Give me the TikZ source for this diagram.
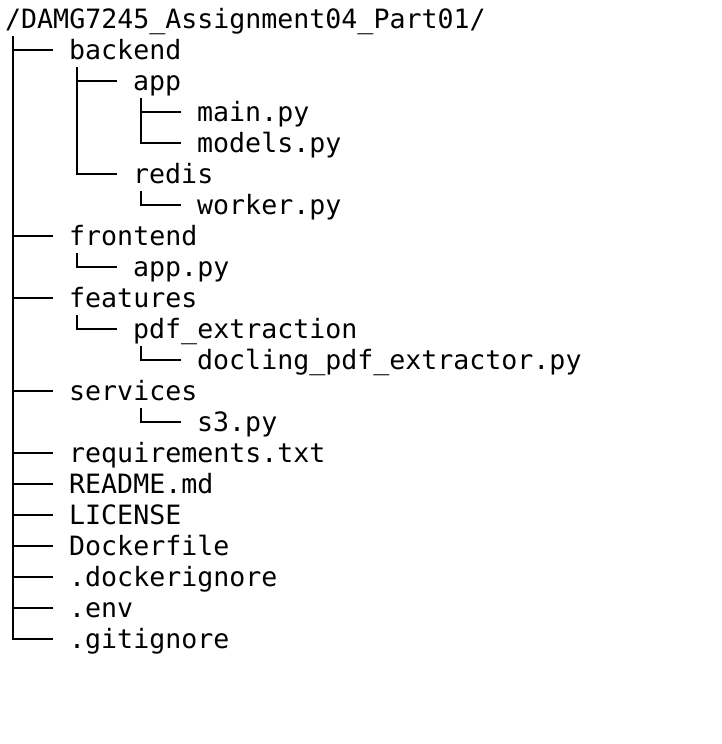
\documentclass[tikz,border=0pt]{standalone}
\usepackage{fontspec}
\setmonofont{DejaVu Sans Mono}
\begin{document}
\begin{tikzpicture}[x=1pt,y=-1pt,
  entry/.style={anchor=base west, inner sep=0pt, font=\ttfamily\fontsize{26.6}{31}\selectfont},
  branch/.style={line width=2pt}]
\useasboundingbox (0,0) rectangle (722,744);
\fill[white] (0,0) rectangle (722,744);
% entries
\node[entry] (root) at (5,28) {/DAMG7245\_Assignment04\_Part01/};
\node[entry] (backend) at (69,59) {backend};
\node[entry] (app) at (133,90) {app};
\node[entry] (main) at (197,121) {main.py};
\node[entry] (models) at (197,152) {models.py};
\node[entry] (redis) at (133,183) {redis};
\node[entry] (worker) at (197,214) {worker.py};
\node[entry] (frontend) at (69,245) {frontend};
\node[entry] (apppy) at (133,276) {app.py};
\node[entry] (features) at (69,307) {features};
\node[entry] (pdf) at (133,338) {pdf\_extraction};
\node[entry] (docling) at (197,369) {docling\_pdf\_extractor.py};
\node[entry] (services) at (69,400) {services};
\node[entry] (s3) at (197,431) {s3.py};
\node[entry] (req) at (69,462) {requirements.txt};
\node[entry] (readme) at (69,493) {README.md};
\node[entry] (license) at (69,524) {LICENSE};
\node[entry] (dockerfile) at (69,555) {Dockerfile};
\node[entry] (dockerignore) at (69,586) {.dockerignore};
\node[entry] (env) at (69,617) {.env};
\node[entry] (gitignore) at (69,648) {.gitignore};
% branches: last child elbows
\draw[branch] ([xshift=8pt,yshift=-8pt]root.base west) |- ([xshift=-16pt,yshift=9pt]gitignore.base west);
\draw[branch] ([xshift=8pt,yshift=-8pt]backend.base west) |- ([xshift=-16pt,yshift=9pt]redis.base west);
\draw[branch] ([xshift=8pt,yshift=-8pt]app.base west) |- ([xshift=-16pt,yshift=9pt]models.base west);
\draw[branch] ([xshift=8pt,yshift=-8pt]redis.base west) |- ([xshift=-16pt,yshift=9pt]worker.base west);
\draw[branch] ([xshift=8pt,yshift=-8pt]frontend.base west) |- ([xshift=-16pt,yshift=9pt]apppy.base west);
\draw[branch] ([xshift=8pt,yshift=-8pt]features.base west) |- ([xshift=-16pt,yshift=9pt]pdf.base west);
\draw[branch] ([xshift=8pt,yshift=-8pt]pdf.base west) |- ([xshift=-16pt,yshift=9pt]docling.base west);
\draw[branch] ([xshift=72pt,yshift=-8pt]services.base west) |- ([xshift=-16pt,yshift=9pt]s3.base west);
% branches: middle children
\foreach \n in {backend,frontend,features,services,req,readme,license,dockerfile,dockerignore,env,app,main}
  \draw[branch] ([xshift=-16pt,yshift=9pt]\n.base west) -- ++(-40,0);
\end{tikzpicture}
\end{document}
